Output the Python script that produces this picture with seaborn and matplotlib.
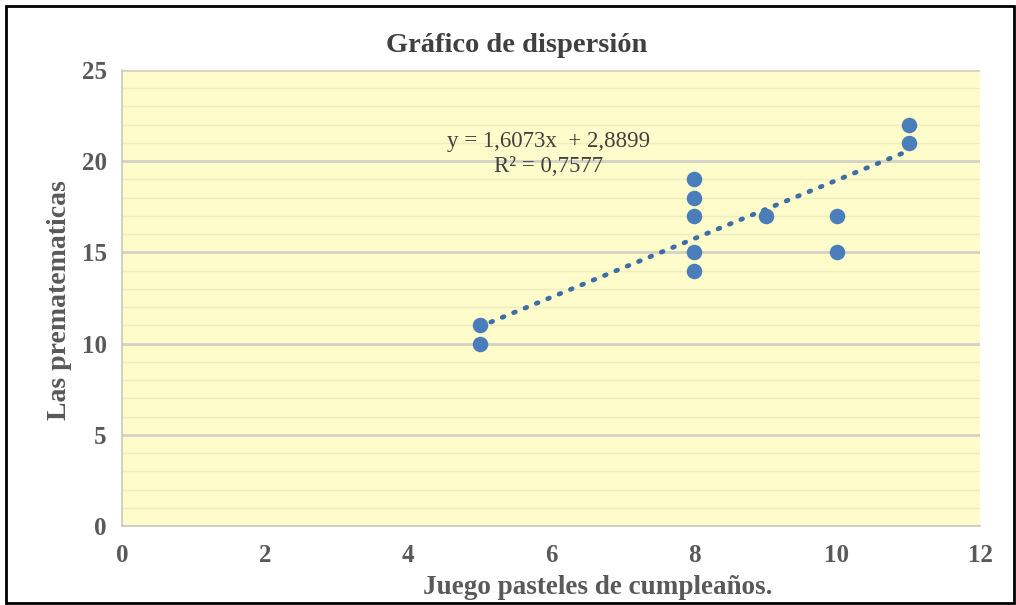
import numpy as np
import pandas as pd
import matplotlib
matplotlib.use("Agg")
import matplotlib.pyplot as plt
import seaborn as sns
from matplotlib.patches import Rectangle

# Data
x_vals = [5, 5, 8, 8, 8, 8, 8, 9, 10, 10, 11, 11]
y_vals = [11, 10, 19, 18, 17, 15, 14, 17, 17, 15, 22, 21]
trend_slope = 1.6073
trend_intercept = 2.8899
title = "Gráfico de dispersión"
xlabel = "Juego pasteles de cumpleaños."
ylabel = "Las prematematicas"
eq_text = "y = 1,6073x  + 2,8899\nR² = 0,7577"
x_ticks = [0, 2, 4, 6, 8, 10, 12]
y_ticks = [0, 5, 10, 15, 20, 25]

df = pd.DataFrame({"x": x_vals, "y": y_vals})
tx = np.array([min(x_vals), max(x_vals)], dtype=float)
trend = pd.DataFrame({"x": tx, "y": trend_slope * tx + trend_intercept})

sns.set_theme(style="white")
plt.rcParams['font.family'] = ['Liberation Serif', 'DejaVu Serif']

W, H = 1016, 605
fig = plt.figure(figsize=(W / 100, H / 100), dpi=100)
fig.patch.set_facecolor("white")
ax = fig.add_axes([122 / W, 1 - 526 / H, (980 - 122) / W, (526 - 70) / H])
ax.set_facecolor("#fefccb")

blue = "#4a7ebb"
sns.lineplot(data=trend, x="x", y="y", ax=ax, color="#3e6ea8", lw=3.4,
             ls=(0, (0.4, 2.2)), dash_capstyle="round", zorder=2)
sns.scatterplot(data=df, x="x", y="y", ax=ax, s=125, color=blue,
                edgecolor=blue, linewidth=0, zorder=3)

ax.set_xlim(0, 12)
ax.set_ylim(0, 25)
ax.set_xticks(x_ticks)
ax.set_yticks(y_ticks)
ax.set_yticks(np.arange(0, 26, 1), minor=True)
ax.grid(False)
ax.grid(which="minor", axis="y", color="#efecc0", lw=1.0, zorder=0)
ax.grid(which="major", axis="y", color="#d3d2c4", lw=2.0, zorder=1)
ax.set_axisbelow(True)

for s in ["top", "right"]:
    ax.spines[s].set_visible(False)
for s in ["left", "bottom"]:
    ax.spines[s].set_color("#c8c8c0")
    ax.spines[s].set_linewidth(1.2)

ax.tick_params(axis="both", which="major", length=6, width=1, color="#c8c8c0",
               labelsize=18, labelcolor="#595959", direction="out")
ax.tick_params(axis="y", which="minor", length=0)
ax.tick_params(axis="x", pad=7)
ax.tick_params(axis="y", pad=5)
for lab in ax.get_xticklabels() + ax.get_yticklabels():
    lab.set_fontweight("bold")

ax.set_xlabel("")
ax.set_ylabel("")
fig.text(598 / W, 1 - 588 / H, xlabel, ha="center", va="center", fontsize=19.5,
         fontweight="bold", color="#595959")
fig.text(60 / W, 1 - 300 / H, ylabel, ha="center", va="center", fontsize=20,
         fontweight="bold", color="#595959", rotation=90)
fig.text(517 / W, 1 - 46 / H, title, ha="center", va="center", fontsize=20.5,
         fontweight="bold", color="#404040")

ax.text(5.96, 20.4, eq_text, ha="center", va="center", fontsize=16.5,
        color="#404040", linespacing=1.2)

fig.add_artist(Rectangle((6 / W, 2 / H), (W - 8) / W, 1 - 8 / H, transform=fig.transFigure,
                         fill=False, edgecolor="black", lw=2))

fig.savefig("out.png", dpi=100)
